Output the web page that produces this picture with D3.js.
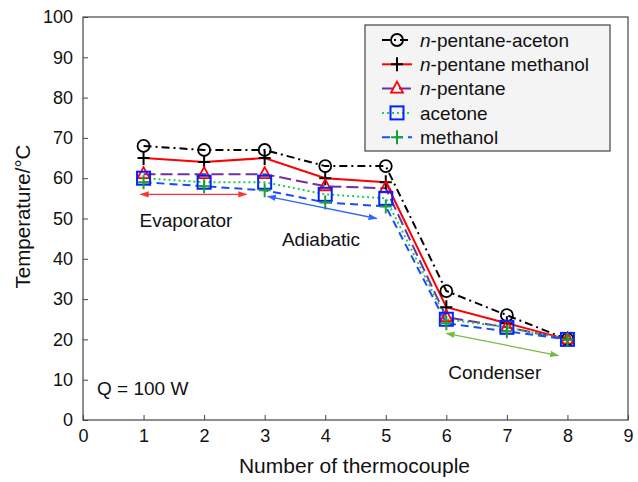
<!DOCTYPE html>
<html>
<head>
<meta charset="utf-8">
<script src="https://cdn.jsdelivr.net/npm/d3@7"></script>
<style>
  body { margin: 0; background: #fff; }
  svg { font-family: "Liberation Sans", Arial, sans-serif; }
</style>
</head>
<body>
<svg id="chart" width="638" height="482"></svg>
<script>
// thermocouple positions
const thermocouples = [1, 2, 3, 4, 5, 6, 7, 8];

// temperatures (°C)
const pentaneAceton = [68, 67, 67, 63, 63, 32, 26, 20];
const pentaneMethanol = [65, 64, 65, 60, 59, 28, 24, 20];
const pentane = [61, 61, 61, 58, 57.5, 25.5, 23, 20];
const acetone = [60, 59, 59, 56, 55, 25, 23, 20];
const methanol = [59, 58, 57, 54, 53, 24, 22, 20];

const xTicks = [0, 1, 2, 3, 4, 5, 6, 7, 8, 9];
const yTicks = [0, 10, 20, 30, 40, 50, 60, 70, 80, 90, 100];

const series = [
    { name: 'n-pentane-aceton', italic: 'n', rest: '-pentane-aceton', values: pentaneAceton,
      line: '#000', dash: '8,4,2,4', marker: 'circle', mcolor: '#000' },
    { name: 'n-pentane methanol', italic: 'n', rest: '-pentane methanol', values: pentaneMethanol,
      line: '#ff0000', dash: null, marker: 'plus', mcolor: '#000' },
    { name: 'n-pentane', italic: 'n', rest: '-pentane', values: pentane,
      line: '#7030a0', dash: '12,5', marker: 'triangle', mcolor: '#ff0000' },
    { name: 'acetone', italic: '', rest: 'acetone', values: acetone,
      line: '#22cc55', dash: '2,3', marker: 'square', mcolor: '#0022ff' },
    { name: 'methanol', italic: '', rest: 'methanol', values: methanol,
      line: '#1a4cff', dash: '8,5', marker: 'plus', mcolor: '#1aa032' },
];

const svg = d3.select('#chart');
const margin = { left: 83, right: 10, top: 17, bottom: 62 };
const width = 638 - margin.left - margin.right;
const height = 482 - margin.top - margin.bottom;

const x = d3.scaleLinear().domain([0, 9]).range([margin.left, margin.left + width]);
const y = d3.scaleLinear().domain([0, 100]).range([margin.top + height, margin.top]);

// Axes, ticks pointing inward
const xAxis = svg.append('g')
    .attr('transform', `translate(0,${ y(0) })`)
    .call(d3.axisBottom(x).tickValues(xTicks).tickSizeInner(-5).tickSizeOuter(0).tickPadding(8));
const yAxis = svg.append('g')
    .attr('transform', `translate(${ x(0) },0)`)
    .call(d3.axisLeft(y).tickValues(yTicks).tickSizeInner(-5).tickSizeOuter(0).tickPadding(10));
for (const ax of [xAxis, yAxis]) {
    ax.select('.domain').remove();
    ax.selectAll('line').attr('stroke', '#444');
    ax.selectAll('text').attr('font-size', 18).attr('fill', '#111')
        .attr('font-family', '"Liberation Sans", Arial, sans-serif');
}
xAxis.selectAll('text').attr('dy', '0.75em');

// frame
svg.append('rect')
    .attr('x', x(0)).attr('y', y(100))
    .attr('width', x(9) - x(0)).attr('height', y(0) - y(100))
    .attr('fill', 'none').attr('stroke', '#444').attr('stroke-width', 1.2);

svg.append('text')
    .attr('x', (x(0) + x(9)) / 2 - 1).attr('y', 473)
    .attr('text-anchor', 'middle').attr('font-size', 21).attr('fill', '#111')
    .text('Number of thermocouple');
svg.append('text')
    .attr('transform', `translate(30,${ (y(0) + y(100)) / 2 - 2 }) rotate(-90)`)
    .attr('text-anchor', 'middle').attr('font-size', 20.5).attr('fill', '#111')
    .text('Temperature/°C');

// markers
function drawMarker(g, type, color, cx, cy) {
    if (type === 'circle') {
        g.append('circle').attr('cx', cx).attr('cy', cy).attr('r', 6)
            .attr('fill', 'none').attr('stroke', color).attr('stroke-width', 1.8);
    } else if (type === 'plus') {
        g.append('path').attr('d', `M${ cx - 6 },${ cy }H${ cx + 6 }M${ cx },${ cy - 7 }V${ cy + 7 }`)
            .attr('stroke', color).attr('stroke-width', 2).attr('fill', 'none');
    } else if (type === 'triangle') {
        g.append('path').attr('d', `M${ cx },${ cy - 7 }L${ cx + 6 },${ cy + 4 }L${ cx - 6 },${ cy + 4 }Z`)
            .attr('stroke', color).attr('stroke-width', 1.8).attr('fill', 'none');
    } else if (type === 'square') {
        g.append('rect').attr('x', cx - 6.5).attr('y', cy - 6.5).attr('width', 13).attr('height', 13)
            .attr('stroke', color).attr('stroke-width', 2).attr('fill', 'none');
    }
}

const line = d3.line().x((d, i) => x(thermocouples[i])).y(d => y(d));

const plot = svg.append('g');
for (const s of series) {
    plot.append('path')
        .datum(s.values)
        .attr('d', line)
        .attr('fill', 'none')
        .attr('stroke', s.line)
        .attr('stroke-width', 2)
        .attr('stroke-dasharray', s.dash);
}
for (const s of series) {
    const g = plot.append('g');
    s.values.forEach((v, i) => drawMarker(g, s.marker, s.mcolor, x(thermocouples[i]), y(v)));
}

// region annotations
svg.append('defs').selectAll('marker')
    .data([['red', '#ff3333'], ['blue', '#3366ff'], ['green', '#77bb44']])
    .join('marker')
    .attr('id', d => 'ah-' + d[0])
    .attr('viewBox', '0 0 10 10').attr('refX', 9).attr('refY', 5)
    .attr('markerWidth', 7).attr('markerHeight', 7)
    .attr('orient', 'auto-start-reverse')
    .append('path').attr('d', 'M0,1.5L10,5L0,8.5Z').attr('fill', d => d[1]);

const regions = [
    { label: 'Evaporator', from: [0.95, 56], to: [2.7, 56], color: 'red', c: '#ff3333', tx: 1.7, ty: 48 },
    { label: 'Adiabatic', from: [3.05, 55.5], to: [4.85, 50], color: 'blue', c: '#3366ff', tx: 3.93, ty: 43.2 },
    { label: 'Condenser', from: [6.0, 21.5], to: [7.85, 16], color: 'green', c: '#77bb44', tx: 6.8, ty: 10.2 },
];
for (const r of regions) {
    svg.append('line')
        .attr('x1', x(r.from[0])).attr('y1', y(r.from[1]))
        .attr('x2', x(r.to[0])).attr('y2', y(r.to[1]))
        .attr('stroke', r.c).attr('stroke-width', 1.3)
        .attr('marker-start', `url(#ah-${ r.color })`)
        .attr('marker-end', `url(#ah-${ r.color })`);
    svg.append('text')
        .attr('x', x(r.tx)).attr('y', y(r.ty))
        .attr('text-anchor', 'middle').attr('font-size', 19).attr('fill', '#111')
        .text(r.label);
}
svg.append('text')
    .attr('x', 97).attr('y', y(6.3))
    .attr('font-size', 19).attr('fill', '#111')
    .text('Q = 100 W');

// legend
const legend = svg.append('g').attr('transform', 'translate(365,25)');
legend.append('rect').attr('width', 245).attr('height', 126)
    .attr('fill', '#f4f4f4').attr('stroke', '#444').attr('stroke-width', 1.2);
series.forEach((s, i) => {
    const ly = 15 + i * 24.3;
    legend.append('line').attr('x1', 17).attr('x2', 47).attr('y1', ly).attr('y2', ly)
        .attr('stroke', s.line).attr('stroke-width', 2).attr('stroke-dasharray', s.dash);
    drawMarker(legend, s.marker, s.mcolor, 32, ly);
    const t = legend.append('text').attr('x', 55).attr('y', ly).attr('dy', '0.35em')
        .attr('font-size', 19).attr('fill', '#111');
    if (s.italic) t.append('tspan').attr('font-style', 'italic').text(s.italic);
    t.append('tspan').text(s.rest);
});
</script>
</body>
</html>
